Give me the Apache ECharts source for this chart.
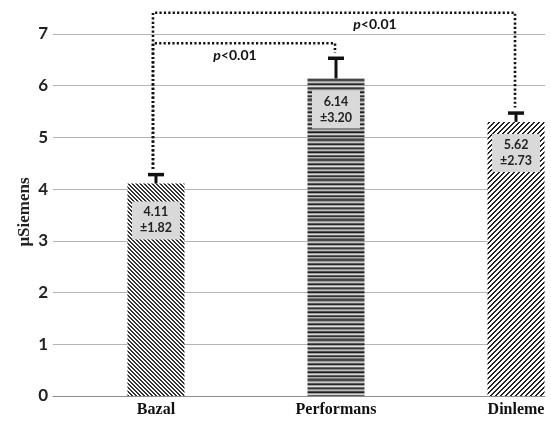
<!DOCTYPE html>
<html>
<head>
<meta charset="utf-8">
<script src="https://cdn.jsdelivr.net/npm/echarts@6/dist/echarts.min.js"></script>
<style>html,body{margin:0;padding:0;background:#fff}#c{width:551px;height:422px}</style>
</head>
<body>
<div id="c"></div>
<script>
// ---- data ----
var categories = ['Bazal', 'Performans', 'Dinleme'];
var barValues = [4.11, 6.14, 5.30];
var errorTop = [4.31, 6.56, 5.50];
var meanLabels = ['4.11', '6.14', '5.62'];
var sdLabels = ['±1.82', '±3.20', '±2.73'];
var sigFrom = [0, 0];
var sigTo = [1, 2];
var sigLevel = [6.82, 7.41];
var sigText = ['p<0.01', 'p<0.01'];
var yTicks = [0, 1, 2, 3, 4, 5, 6, 7];
var yAxisTitle = 'μSiemens';

// ---- patterns (style only) ----
function diagPattern(period, dark, dir, color) {
  var c = document.createElement('canvas');
  c.width = period; c.height = period;
  var ctx = c.getContext('2d');
  ctx.fillStyle = '#fff'; ctx.fillRect(0, 0, period, period);
  ctx.fillStyle = color;
  for (var y = 0; y < period; y++) for (var x = 0; x < period; x++) {
    var k = dir > 0 ? ((x + y) % period) : (((x - y) % period) + period) % period;
    if (k < dark) ctx.fillRect(x, y, 1, 1);
  }
  return c;
}
function stripePattern() {
  var rows = ['#4a4a4a','#9a9a9a','#c8c8c8','#5a5a5a','#2a2a2a','#a5a5a5','#e0e0e0','#6a6a6a','#3a3a3a','#8a8a8a','#bdbdbd','#505050','#1e1e1e','#9f9f9f','#d5d5d5','#606060','#303030','#b0b0b0','#7a7a7a','#454545'];
  var c = document.createElement('canvas');
  c.width = 8; c.height = rows.length;
  var ctx = c.getContext('2d');
  rows.forEach(function (col, i) { ctx.fillStyle = col; ctx.fillRect(0, i, 8, 1); });
  return c;
}
var patterns = [
  diagPattern(4, 2, -1, '#333'),
  stripePattern(),
  diagPattern(5, 2, 1, '#222')
];
var labelDistance = [18, 12, 12];
var sigLabelDx = [-11, 39];

var chart = echarts.init(document.getElementById('c'), null, {renderer: 'canvas'});

var barData = barValues.map(function (v, i) {
  return {
    value: [i, v],
    itemStyle: {color: {image: patterns[i], repeat: 'repeat'}},
    label: {distance: labelDistance[i]}
  };
});

var option = {
  animation: false,
  backgroundColor: '#fff',
  grid: {left: 53, right: 6, top: 34, bottom: 26},
  graphic: [{
    type: 'text', x: 25, y: 212, rotation: Math.PI / 2,
    style: {text: yAxisTitle, align: 'center', verticalAlign: 'middle',
      font: 'bold 17px "Liberation Serif"', fill: '#222'}
  }],
  xAxis: {
    type: 'value', min: -0.572, max: 2.161,
    axisLine: {show: true, lineStyle: {color: '#8c8c8c', width: 1}},
    axisTick: {show: false},
    splitLine: {show: false},
    axisLabel: {
      customValues: [0, 1, 2],
      formatter: function (v) { return categories[Math.round(v)]; },
      fontFamily: 'Liberation Serif', fontWeight: 'bold', fontSize: 16, color: '#111', margin: 6
    }
  },
  yAxis: {
    type: 'value', min: 0, max: 7, interval: 1,
    axisLine: {show: false}, axisTick: {show: false},
    axisLabel: {fontFamily: 'Lato', fontWeight: 'bold', fontSize: 17, color: '#222', margin: 5,
      formatter: function (v) { return yTicks.indexOf(v) >= 0 ? String(v) : ''; }},
    splitLine: {lineStyle: {color: '#b4b4b4', width: 1}}
  },
  series: [
    {
      type: 'bar', data: barData, barWidth: 57,
      label: {
        show: true, position: 'insideTop',
        formatter: function (p) { return meanLabels[p.dataIndex] + '\n' + sdLabels[p.dataIndex]; },
        backgroundColor: '#d9d9d9', padding: [3, 8, 3, 8], width: 32, align: 'center',
        lineHeight: 16, fontFamily: 'Lato', fontWeight: 'bold', fontSize: 12.5, color: '#222'
      }
    },
    {
      type: 'custom', clip: false, z: 5,
      data: errorTop.map(function (v, i) { return [i, barValues[i], v]; }),
      renderItem: function (params, api) {
        var p0 = api.coord([api.value(0), api.value(1)]);
        var p1 = api.coord([api.value(0), api.value(2)]);
        var s = {stroke: '#111', lineWidth: 3};
        return {type: 'group', children: [
          {type: 'line', shape: {x1: p0[0], y1: p0[1], x2: p1[0], y2: p1[1] + 1}, style: s},
          {type: 'line', shape: {x1: p1[0] - 8, y1: p1[1] + 1.5, x2: p1[0] + 8, y2: p1[1] + 1.5}, style: {stroke: '#111', lineWidth: 3.5}}
        ]};
      }
    },
    {
      type: 'custom', clip: false, z: 6,
      data: sigFrom.map(function (f, i) { return [f, sigTo[i], sigLevel[i], errorTop[f], errorTop[sigTo[i]]]; }),
      renderItem: function (params, api) {
        var i = params.dataIndex;
        var a = api.coord([api.value(0), api.value(2)]);
        var b = api.coord([api.value(1), api.value(2)]);
        var aEnd = api.coord([api.value(0), api.value(3)]);
        var bEnd = api.coord([api.value(1), api.value(4)]);
        var ds = {stroke: '#111', lineWidth: 2.6, lineDash: [2.2, 2.2], fill: null};
        return {type: 'group', children: [
          {type: 'polyline', shape: {points: [[a[0] - 3, aEnd[1] - 4], [a[0] - 3, a[1]], [b[0] - 1, b[1]], [b[0] - 1, bEnd[1] - 4]]}, style: ds},
          {type: 'text', x: (a[0] + b[0]) / 2 + sigLabelDx[i], y: a[1] + 12,
            style: {text: '{i|p}' + sigText[i].slice(1), align: 'center', verticalAlign: 'middle',
              font: 'bold 14px Lato', fill: '#111',
              rich: {i: {fontStyle: 'italic', fontWeight: 'bold', fontSize: 14, fontFamily: 'Lato', fill: '#111'}}}}
        ]};
      }
    }
  ]
};
chart.setOption(option);
</script>
</body>
</html>
